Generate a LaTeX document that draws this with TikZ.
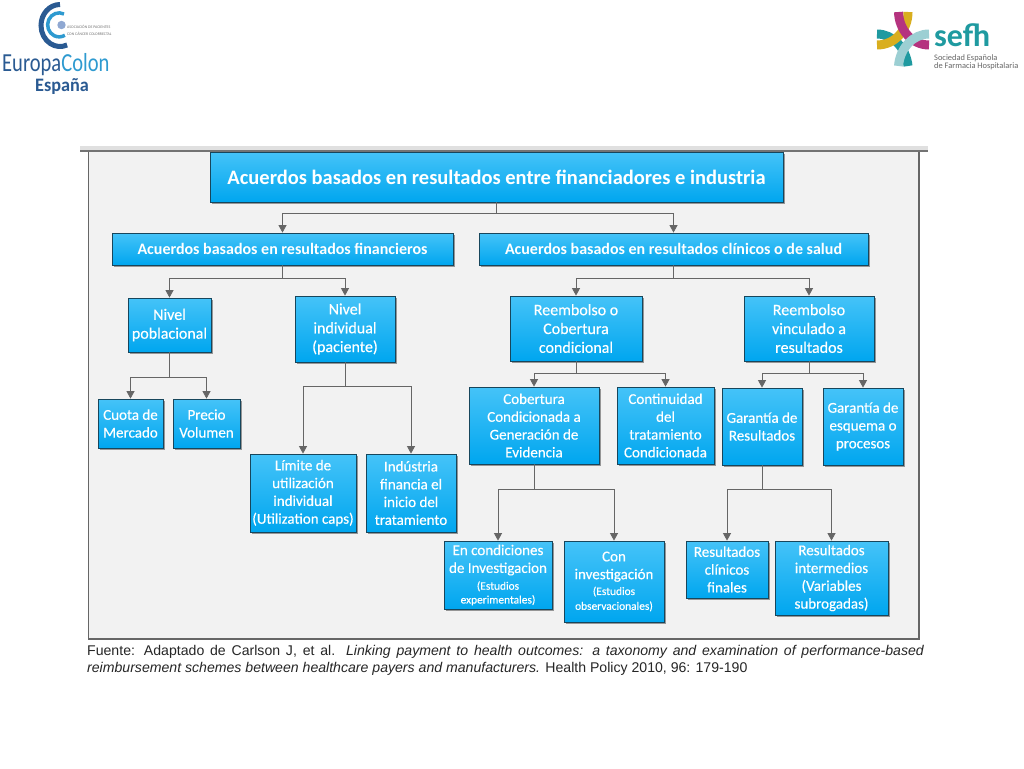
\documentclass[tikz,border=0pt]{standalone}
\usepackage{fontspec}
\setmainfont{Carlito}
\newfontfamily\boxfont[RawFeature={embolden=0.35}]{Carlito}
\newfontfamily\capfont{Liberation Sans}
\usetikzlibrary{shadows,arrows.meta}
\definecolor{boxtop}{HTML}{45C3F8}
\definecolor{boxbot}{HTML}{00A6EF}
\definecolor{boxedge}{HTML}{17465C}
\definecolor{teal}{HTML}{1F9AA0}
\definecolor{magen}{HTML}{B5337F}
\definecolor{gold}{HTML}{D9AE1E}
\definecolor{pale}{HTML}{9CCFD3}
\definecolor{ecdark}{HTML}{2A5A92}
\definecolor{eclight}{HTML}{2E9AD0}
\definecolor{ecball}{HTML}{8FA8D2}
\tikzset{
  x=1pt,y=-1pt,
  flowbox/.style={draw=boxedge,line width=.8pt,top color=boxtop,bottom color=boxbot,
    text=white,align=center,inner sep=0pt,font=\boxfont\fontsize{15}{17.8}\selectfont,
    drop shadow={shadow xshift=1.8pt,shadow yshift=-1.8pt,opacity=.55,fill=black!70}},
  bigbox/.style={flowbox,font=\boxfont\fontsize{16}{18.8}\selectfont},
  rootbox/.style={flowbox,font=\fontsize{20.5}{24}\selectfont\bfseries},
  levelbox/.style={flowbox,font=\fontsize{16}{20}\selectfont\bfseries},
  conn/.style={draw=black!60,line width=.8pt},
  arrow/.style={conn,-{Triangle[length=7.5pt,width=8pt]}},
  stem/.style={conn,line width=1pt},
  caption/.style={anchor=base west,inner sep=0pt,font=\capfont\fontsize{14.1}{16}\selectfont,text=black!85},
  logotext/.style={inner sep=0pt,anchor=base west},
}
\newcommand{\bx}[7][flowbox]{% style, name, x1,y1,x2,y2, text
  \node[#1,minimum width=#5pt-#3pt,minimum height=#6pt-#4pt] (#2) at ({(#3+#5)/2},{(#4+#6)/2}) {#7};}
\newcommand{\tree}[4]{% parent, bar offset, left child, right child
  \draw[stem] (#1.south) -- ++(0,#2) coordinate (bar#1);
  \draw[arrow] (bar#1) -| (#3.north);
  \draw[arrow] (bar#1) -| (#4.north);}
\newcommand{\smalltxt}[1]{{\fontsize{11.4}{13}\selectfont #1}}
\begin{document}
\begin{tikzpicture}
\useasboundingbox (0,0) rectangle (1024,768);
\fill[white] (0,0) rectangle (1024,768);
% panel
\fill[black!12] (80,146) rectangle (928,151);
\fill[black!5] (88,151) rectangle (919,639);
\draw[black!60,line width=1pt] (88,151) -- (88,639);
\draw[black!60,line width=1.4pt] (88,639) -- (919,639) -- (919,151);
\draw[black!55,line width=1.2pt] (80,151) -- (928,151);
% boxes
\bx[rootbox]{root}{210}{152}{783}{202}{Acuerdos basados en resultados entre financiadores e industria}
\bx[levelbox]{fin}{112}{233}{453}{265}{Acuerdos basados en resultados financieros}
\bx[levelbox]{clin}{479}{233}{868}{265}{Acuerdos basados en resultados clínicos o de salud}
\bx[bigbox]{pob}{128}{298}{211}{352}{Nivel\\poblacional}
\bx[bigbox]{ind}{295}{296}{395}{362}{Nivel\\individual\\(paciente)}
\bx[bigbox]{reem}{510}{296}{642}{361}{Reembolso o\\Cobertura\\condicional}
\bx[bigbox]{vinc}{744}{296}{874}{361}{Reembolso\\vinculado a\\resultados}
\bx{cuota}{98}{399}{163}{448}{Cuota de\\Mercado}
\bx{precio}{173}{399}{240}{448}{Precio\\Volumen}
\bx{limite}{250}{454}{356}{532}{Límite de\\utilización\\individual\\(Utilization caps)}
\bx{indus}{366}{454}{456}{532}{Indústria\\financia el\\inicio del\\tratamiento}
\bx{cober}{469}{387}{599}{464}{Cobertura\\Condicionada a\\Generación de\\Evidencia}
\bx{conti}{617}{387}{714}{464}{Continuidad\\del\\tratamiento\\Condicionada}
\bx{garan}{722}{388}{802}{465}{Garantía de\\Resultados}
\bx{esque}{823}{388}{903}{465}{Garantía de\\esquema o\\procesos}
\bx{cond}{444}{541}{552}{609}{En condiciones\\de Investigacion\\[-1pt]\smalltxt{(Estudios}\\[-4pt]\smalltxt{experimentales)}}
\bx{coninv}{564}{541}{664}{622}{Con\\investigación\\[-2pt]\smalltxt{(Estudios}\\[-3pt]\smalltxt{observacionales)}}
\bx{fina}{686}{541}{768}{598}{Resultados\\clínicos\\finales}
\bx{inter}{775}{541}{888}{615}{Resultados\\intermedios\\(Variables\\subrogadas)}
% connectors
\tree{root}{11}{fin}{clin}
\tree{fin}{13}{pob}{ind}
\tree{clin}{13}{reem}{vinc}
\tree{pob}{25}{cuota}{precio}
\tree{ind}{24}{limite}{indus}
\tree{reem}{12}{cober}{conti}
\tree{vinc}{12}{garan}{esque}
\tree{cober}{25}{cond}{coninv}
\tree{garan}{24}{fina}{inter}
% caption
\node[caption] (cap1) at (87,655) {\makebox[837pt][s]{Fuente: Adaptado de Carlson J, et al. \textit{Linking payment to health outcomes: a taxonomy and examination of performance-based}}};
\node[caption] (cap2) at (87,672) {\textit{reimbursement schemes between healthcare payers and manufacturers.} Health Policy 2010, 96: 179-190};
% EuropaColon logo
\draw[ecdark,line width=5pt] (60,4.5) arc (-90:-292:19 and 21);
\draw[eclight,line width=3.5pt] (64,14) arc (-65:-300:11.5 and 12);
\fill[ecball] (61.5,25) circle (4.2);
\node[logotext,text=black!55,font=\fontsize{3.9}{5}\selectfont] (ec1) at (67,29) {ASOCIACIÓN DE PACIENTES};
\node[logotext,text=black!55,font=\fontsize{3.9}{5}\selectfont] (ec2) at (67,36) {CON CÁNCER COLORRECTAL};
\node[logotext,font=\fontsize{26}{26}\selectfont] (ec3) at (2,71) {\scalebox{.79}[1]{\textcolor{ecdark}{Europa}\textcolor{eclight}{Colon}}};
\node[logotext,text=ecdark,font=\fontsize{19}{19}\selectfont\bfseries] (ec4) at (35,91) {\scalebox{.96}[1]{España}};
% sefh logo
\begin{scope}[line cap=butt,line width=9pt]
\draw[teal] (877,34) .. controls (893,34) and (906,48) .. (908,66);
\draw[gold] (908,12) .. controls (908,30) and (895,45) .. (877,45);
\draw[magen] (898.5,12) .. controls (899,30) and (912,45) .. (929,45);
\draw[pale] (929,34) .. controls (913,34) and (900,48) .. (898.5,66);
\end{scope}
\node[logotext,text=teal,font=\fontsize{32}{32}\selectfont\bfseries] (sf1) at (934,47) {sefh};
\node[logotext,text=black!60,font=\fontsize{8.4}{10}\selectfont] (sf2) at (934,60) {Sociedad Española};
\node[logotext,text=black!60,font=\fontsize{8.4}{10}\selectfont] (sf3) at (934,68) {de Farmacia Hospitalaria};
\end{tikzpicture}
\end{document}
